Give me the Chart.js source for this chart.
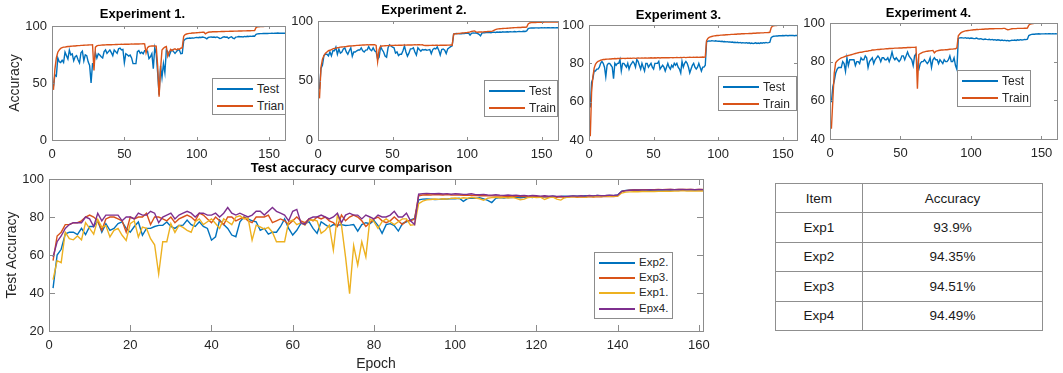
<!DOCTYPE html>
<html>
<head>
<meta charset="utf-8">
<script src="https://cdn.jsdelivr.net/npm/chart.js@4.4.1/dist/chart.umd.min.js"></script>
<style>
  body { margin: 0; background: #fff; width: 1063px; height: 373px; position: relative; overflow: hidden;
         font-family: "Liberation Sans", Arial, sans-serif; }
  canvas { position: absolute; }
  .legend { position: absolute; box-sizing: border-box; border: 1px solid #8c8c8c; background: #fff; color: #262626; }
  .legend .swatch { position: absolute; height: 2px; }
  .legend .lbl { position: absolute; line-height: 1; transform: translateY(-50%); white-space: nowrap; }
  #acc { position: absolute; left: 775px; top: 183px; width: 268px; border-collapse: collapse;
         font-size: 13.5px; color: #1a1a1a; }
  #acc td { border: 1px solid #8f8f8f; height: 28.4px; padding: 0; text-align: center; }
  #acc td:first-child { width: 86px; }
</style>
</head>
<body>
<canvas id="c1" width="300" height="165" style="left:0px;top:0px"></canvas>
<canvas id="c2" width="280" height="165" style="left:290px;top:0px"></canvas>
<canvas id="c3" width="250" height="165" style="left:560px;top:0px"></canvas>
<canvas id="c4" width="263" height="165" style="left:800px;top:0px"></canvas>
<canvas id="cmp" width="720" height="213" style="left:0px;top:160px"></canvas>
<table id="acc"></table>
<script>
// epochs 1..161
const epochs = Array.from({ length: 161 }, (_, i) => i + 1);

const exp1Test = [
  47, 57, 56, 72, 68.6, 68, 70, 68, 77, 74,
  71, 78.8, 74.7, 75.5, 69.5, 73, 74, 70.4, 67.7, 76.5,
  78, 69.5, 74.7, 74, 68.6, 65.4, 50, 67, 67, 76.5,
  71.9, 75.6, 74.5, 73, 72, 77.5, 79, 76, 77.5, 79,
  76.6, 74, 79, 77.5, 76, 80, 80.6, 79, 79.5, 67.8,
  75.7, 74.8, 73.6, 74.5, 72, 67, 67, 67, 77.5, 78.4,
  76, 77, 75.7, 78.4, 78.4, 78, 71.4, 73, 75.7, 62.6,
  81, 75.7, 59, 39.7, 65, 54.7, 67, 59, 79, 77.5,
  74, 77.5, 79, 77.5, 76, 77.5, 79, 79, 75.7, 76,
  87, 88.4, 89, 89.2, 89.5, 89.3, 89.6, 89.4, 89.8, 90,
  89.7, 90.1, 89.9, 90.3, 90, 89.6, 88.8, 89.9, 90.2, 90.4,
  90.1, 90.3, 90, 90.4, 89.8, 89.1, 89.4, 90.3, 90.5, 90.2,
  90.4, 89.2, 90.1, 90.6, 89.4, 88.9, 90.3, 90.5, 90.8, 90.6,
  90.7, 90.4, 90.9, 90.6, 91, 90.8, 91.1, 90.9, 91.2, 91,
  92.6, 93.1, 93.2, 93.3, 93.3, 93.4, 93.4, 93.5, 93.4, 93.5,
  93.5, 93.6, 93.5, 93.6, 93.6, 93.9, 93.6, 93.7, 93.6, 93.7,
  93.7
];
const exp1Train = [
  44, 62, 72, 77, 79, 80.5, 81, 81.5, 81.5, 81.8,
  82, 82, 82.2, 82.3, 82.5, 82.5, 82.7, 82.8, 82.8, 83,
  83, 83.1, 83.2, 83.2, 83.3, 83.4, 83.4, 83.5, 61, 81.5,
  82.5, 83, 83, 83.2, 83.3, 83.3, 83.4, 83.5, 83.5, 83.6,
  83.6, 83.7, 83.7, 83.8, 83.8, 83.9, 83.9, 84, 83.9, 84,
  84, 84.1, 84, 84.1, 84.2, 84.1, 84.2, 84.2, 84.3, 84.2,
  84.3, 84.3, 84.4, 84.3, 76.5, 81, 82, 82.3, 82.5, 82.5,
  82.6, 82.4, 65, 38, 62, 79, 80.5, 81.5, 82, 73.5,
  77, 79.5, 78.5, 79.5, 80, 79, 80, 79.5, 80.5, 81,
  91, 92.5, 93, 93.3, 93.5, 93.6, 93.8, 93.9, 94, 94.1,
  94.2, 94.3, 94.4, 94.5, 94.6, 93.2, 94, 94.5, 94.7, 94.8,
  94.9, 94.9, 95, 95, 95.1, 95.1, 95.2, 95.2, 95.2, 95.3,
  95.3, 95.3, 95.4, 95.4, 95.4, 95.5, 95.5, 95.5, 95.6, 95.6,
  95.6, 95.7, 95.7, 95.7, 95.8, 95.8, 95.8, 95.9, 95.9, 96,
  98.6, 99.2, 99.4, 99.5, 99.6, 99.6, 99.7, 99.7, 99.7, 99.8,
  99.8, 99.8, 99.8, 99.8, 99.9, 99.9, 99.9, 99.9, 99.9, 99.9,
  99.9
];
const exp2Test = [
  42.6, 60, 63, 71, 72, 72, 70.7, 74, 70.7, 75,
  75, 78, 72, 76.5, 73, 74, 76.5, 77.4, 74, 72,
  75, 77.4, 70.4, 74, 74, 75, 75.6, 75.6, 77.4, 75,
  74, 75.5, 75.7, 78.4, 76, 75, 77.5, 75, 74, 67.8,
  69.6, 78.4, 76, 74, 70.5, 69.6, 77.5, 80, 79, 78,
  77.5, 73, 74, 71, 72, 72, 75, 79, 74, 70.5,
  73, 76.6, 76.6, 77.5, 74, 71.4, 77.5, 76, 74.6, 76,
  75.7, 76, 75.5, 75.7, 76, 72.6, 76, 77, 76.5, 78.2,
  75.5, 71.4, 76, 76.5, 75.5, 72.6, 76.5, 77.5, 78.5, 79.2,
  89, 89.4, 89.5, 89.4, 89.2, 89.3, 89.5, 89.4, 89.7, 89.6,
  89.9, 88.2, 89.7, 90, 89.8, 90.1, 89.5, 88.8, 87.6, 89.8,
  90.2, 90, 90.4, 90.3, 90.5, 90.1, 90.4, 90.6, 90.3, 90.7,
  90.6, 90.8, 90.5, 90.9, 90.7, 90.8, 91, 90.8, 91.1, 90.9,
  91, 91.2, 90.9, 91.1, 91.3, 91.1, 91.2, 91.4, 91.2, 91.6,
  93.6, 94, 94.1, 94.2, 94.1, 94.2, 94.2, 94.1, 94.2, 94.3,
  94.2, 94.3, 94.2, 94.35, 94.3, 94.2, 94.3, 94.3, 94.2, 94.3,
  94.3
];
const exp2Train = [
  35, 61, 68, 71, 73, 74, 75, 75.4, 76, 76.5,
  77, 77.2, 77.5, 77.7, 78, 78.2, 78.3, 78.5, 78.6, 78.8,
  79, 79, 79.1, 79.2, 79.3, 79.5, 79.5, 79.6, 79.7, 79.8,
  79.8, 79.9, 80, 79.9, 80, 80.1, 80, 80.1, 79.5, 66,
  76, 78.8, 79, 79.1, 79.2, 79.3, 79.3, 79.4, 79.5, 79.4,
  79.5, 79.6, 79.5, 79.6, 79.7, 79.6, 79.7, 79.8, 79.7, 79.8,
  79.8, 79.9, 79.8, 79.9, 80, 79.9, 80, 80, 79.9, 80,
  79.5, 79.4, 79.5, 79.4, 79.5, 79.5, 79.6, 79.5, 79.6, 79.6,
  79.5, 79.6, 79.7, 79.6, 79.7, 79.6, 79.7, 79.7, 79.8, 79.6,
  89, 89.3, 89.2, 89.5, 89.6, 89.8, 89.9, 90, 90.2, 90.3,
  90.5, 90.8, 91.2, 91.5, 91.6, 90.8, 90.6, 90.7, 90.8, 90.7,
  90.9, 91, 91.1, 91.2, 91.3, 91.3, 91.5, 92.2, 92.8, 93.2,
  93.4, 93.5, 93.6, 93.7, 93.8, 93.8, 93.9, 94, 94.1, 94.2,
  94.3, 94.4, 94.4, 94.5, 94.6, 94.6, 94.7, 94.8, 94.8, 94.9,
  97.5, 98.3, 98.6, 98.7, 98.8, 98.8, 98.9, 98.9, 99, 99,
  99, 99.1, 99.1, 99.1, 99.2, 99.2, 99.2, 99.2, 99.2, 99.2,
  99.2
];
const exp3Test = [
  57, 70, 72, 76, 76, 77, 77, 78, 80, 81,
  80, 78, 73, 79, 80, 80, 79, 78, 72, 80,
  79, 80, 80, 82, 76, 80, 80, 79, 78, 80,
  77, 79, 80, 81, 80, 78, 82, 81, 79, 77,
  80, 78, 76, 80, 80, 78, 79, 80, 78, 77,
  80, 80, 80, 81, 77, 78, 79, 78, 76, 78,
  80, 78, 77, 79, 78, 80, 79, 80, 78, 77,
  75, 81, 78, 80, 81, 80, 78, 75, 77, 79,
  80, 78, 77, 78, 80, 78, 76, 78, 78, 79,
  91.2, 91.6, 91.7, 91.6, 91.8, 91.7, 91.6, 91.8, 91.6, 91.5,
  91.6, 91.4, 91.5, 91.3, 91.4, 91.2, 91.3, 91.1, 91.2, 91,
  91.1, 90.9, 91, 90.8, 91, 90.7, 90.9, 90.6, 90.8, 90.7,
  90.6, 90.8, 90.5, 90.7, 90.4, 90.6, 90.3, 90.5, 90.7, 90.4,
  90.6, 90.4, 90.7, 90.5, 90.8, 90.6, 90.9, 90.7, 90.8, 91,
  93.4, 93.9, 94.1, 94.2, 94.3, 94.3, 94.4, 94.4, 94.4, 94.5,
  94.4, 94.5, 94.5, 94.4, 94.5, 94.51, 94.5, 94.5, 94.4, 94.5,
  94.5
];
const exp3Train = [
  42, 65, 73, 77.5, 79.5, 80.5, 81, 81.3, 81.6, 81.8,
  82, 82, 82.1, 82.2, 82.2, 82.3, 82.3, 82.4, 82.4, 82.5,
  82.4, 82.5, 82.5, 82.6, 82.5, 82.6, 82.6, 82.5, 82.6, 82.7,
  82.6, 82.7, 82.6, 82.7, 82.7, 82.6, 82.7, 82.8, 82.7, 82.7,
  82.8, 82.7, 82.8, 82.8, 82.7, 82.8, 82.8, 82.9, 82.8, 82.8,
  82.9, 82.8, 82.9, 82.9, 82.8, 82.9, 82.9, 83, 82.9, 82.9,
  83, 82.9, 83, 83, 82.9, 83, 83, 83.1, 83, 83,
  83.1, 83, 83.1, 83.1, 83, 83.1, 83.1, 83.2, 83.1, 83.1,
  83.2, 83.1, 83.2, 83.2, 83.1, 83.2, 83.2, 83.3, 83.2, 83.3,
  91.8, 93, 93.5, 93.8, 94, 94.2, 94.3, 94.4, 94.5, 94.5,
  94.6, 94.7, 94.7, 94.8, 94.8, 94.9, 94.9, 95, 95, 95.1,
  95.1, 95.1, 95.2, 95.2, 95.3, 95.3, 95.3, 95.4, 95.4, 95.4,
  95.5, 95.5, 95.5, 95.6, 95.6, 95.6, 95.7, 95.7, 95.7, 95.8,
  95.8, 95.8, 95.9, 95.9, 95.9, 96, 96, 96, 96.1, 96.2,
  98.5, 99.4, 99.6, 99.7, 99.7, 99.8, 99.8, 99.8, 99.8, 99.9,
  99.9, 99.9, 99.9, 99.9, 99.9, 99.9, 99.9, 99.9, 99.9, 99.9,
  99.9
];
const exp4Test = [
  59, 67, 70, 74, 76, 77, 77, 77, 80, 79,
  75, 82, 78, 81, 81, 81, 81, 78, 80, 80,
  79, 82, 81, 81, 83, 82, 77, 80, 81, 82,
  79, 81, 82, 83, 82, 80, 82, 82, 81, 81,
  82, 80, 82, 85, 82, 81, 82, 81, 80, 81,
  83, 83, 81, 83, 85, 83, 82, 81, 78, 83,
  84, 77, 76, 79, 80, 80, 81, 80, 79, 80,
  82, 77, 81, 82, 81, 81, 79, 81, 80, 79,
  81, 80, 80, 81, 83, 80, 80, 82, 78, 76,
  92, 92.3, 92.4, 92.3, 92.2, 92.4, 92.1, 92.3, 92, 92.2,
  92.1, 91.9, 92, 92.2, 91.8, 91.7, 91.9, 91.6, 91.5, 91.7,
  91.5, 91.4, 91.6, 91.3, 91.5, 91.2, 91.4, 91.1, 91.3, 91.2,
  91, 91.2, 90.9, 91.1, 90.8, 91, 90.7, 90.9, 91.1, 91,
  91.2, 91, 91.3, 91.1, 91.4, 91.2, 91.3, 91.5, 91.4, 91.6,
  93.5, 93.9, 94.1, 94.2, 94.2, 94.3, 94.3, 94.4, 94.3, 94.4,
  94.4, 94.4, 94.45, 94.4, 94.45, 94.49, 94.4, 94.45, 94.4, 94.45,
  94.4
];
const exp4Train = [
  45.3, 60, 74, 79.4, 80.3, 81, 81.5, 82, 82.2, 82.5,
  82.8, 83, 83.2, 83.4, 83.6, 83.8, 84, 84.2, 84.4, 84.6,
  84.8, 84.9, 85, 85.2, 85.3, 85.4, 85.5, 85.7, 85.8, 86,
  86, 86.1, 86.2, 86.3, 86.3, 86.4, 86.5, 86.5, 86.6, 86.7,
  86.7, 86.8, 86.8, 86.9, 86.9, 87, 87, 87, 87.1, 87.1,
  87.1, 87.2, 87.2, 87.2, 87.3, 87.3, 87.3, 87.4, 87.4, 87.4,
  87.5, 66, 83.7, 84.2, 84.6, 84.9, 85.1, 85.3, 85.4, 85.5,
  85.6, 85.7, 85.8, 84.6, 85.3, 85.6, 85.8, 85.9, 86, 86,
  86.1, 86.2, 86.2, 86.3, 86.4, 86.5, 86.5, 86.6, 86.7, 87.2,
  93.4, 94.3, 95, 95.4, 95.7, 95.9, 96, 96.1, 96.2, 96.3,
  96.4, 96.5, 96.5, 96.6, 96.6, 96.7, 96.7, 96.8, 96.8, 96.9,
  96.9, 96.9, 97, 97, 97, 97, 97.1, 97.1, 97.1, 97.1,
  97.1, 97.1, 97.2, 97.2, 96.8, 96.5, 96.6, 96.8, 97, 97.1,
  97.1, 97.1, 97.2, 97.2, 97.2, 97.2, 97.2, 97.3, 97.3, 97.4,
  98.9, 99.4, 99.6, 99.7, 99.8, 99.8, 99.8, 99.9, 99.9, 99.9,
  99.9, 99.9, 99.9, 100, 100, 99.9, 100, 100, 100, 100,
  99.9
];

const tableItems = ['Exp1', 'Exp2', 'Exp3', 'Exp4'];
const tableAccuracy = ['93.9%', '94.35%', '94.51%', '94.49%'];

const BLUE = '#0072BD', ORANGE = '#D95319', YELLOW = '#EDB120', PURPLE = '#7E2F8E';
const AXIS = '#8c8c8c', TEXT = '#262626';
const FONT = '"Liberation Sans", Arial, sans-serif';

// box round the plot area with MATLAB-style inward ticks
const boxTicks = {
    id: 'boxTicks',
    afterDatasetsDraw(chart, args, opts) {
        const { ctx, chartArea: a, scales: { x, y } } = chart;
        const len = opts.len || 3;
        ctx.save();
        ctx.strokeStyle = AXIS;
        ctx.lineWidth = 1;
        ctx.beginPath();
        x.ticks.forEach(t => {
            const px = Math.round(x.getPixelForValue(t.value)) + 0.5;
            ctx.moveTo(px, a.bottom); ctx.lineTo(px, a.bottom - len);
            ctx.moveTo(px, a.top); ctx.lineTo(px, a.top + len);
        });
        y.ticks.forEach(t => {
            const py = Math.round(y.getPixelForValue(t.value)) + 0.5;
            ctx.moveTo(a.left, py); ctx.lineTo(a.left + len, py);
            ctx.moveTo(a.right, py); ctx.lineTo(a.right - len, py);
        });
        ctx.stroke();
        ctx.strokeRect(Math.round(a.left) + 0.5, Math.round(a.top) + 0.5,
                       Math.round(a.width), Math.round(a.height));
        ctx.restore();
    }
};

function line(label, data, color, order) {
    return { label, data, borderColor: color, backgroundColor: color, borderWidth: 1.4,
             pointRadius: 0, tension: 0, order };
}

function makeChart(id, cfg) {
    const canvas = document.getElementById(id);
    const cl = parseFloat(canvas.style.left), ct = parseFloat(canvas.style.top);
    const cw = canvas.width, ch = canvas.height;
    const [pl, pt, pr, pb] = cfg.plot;
    const titlePadTop = cfg.titleY - ct - 7.8;
    return new Chart(canvas, {
        type: 'line',
        data: { labels: epochs, datasets: cfg.datasets },
        options: {
            responsive: false,
            devicePixelRatio: 1,
            animation: false,
            layout: { padding: { left: 0, top: 0, bottom: 0, right: cl + cw - pr } },
            plugins: {
                legend: { display: false },
                tooltip: { enabled: false },
                title: {
                    display: true, text: cfg.title, color: '#000',
                    font: { family: FONT, size: 13, weight: 'bold' },
                    padding: { top: titlePadTop, bottom: pt - ct - 15.6 - titlePadTop }
                },
                boxTicks: { len: cfg.tickLen }
            },
            scales: {
                x: {
                    type: 'linear', min: 0, max: 161,
                    grid: { display: false, drawTicks: false },
                    border: { display: false },
                    ticks: { stepSize: cfg.xStep, includeBounds: false, autoSkip: false, maxRotation: 0,
                             padding: 7, color: TEXT, font: { family: FONT, size: 13 } },
                    title: cfg.xTitle ? { display: true, text: cfg.xTitle, color: TEXT,
                                          font: { family: FONT, size: 14 }, padding: { top: 0, bottom: 0 } }
                                      : { display: false },
                    afterFit: s => { s.height = ct + ch - pb; }
                },
                y: {
                    min: cfg.yMin, max: 100,
                    grid: { display: false, drawTicks: false },
                    border: { display: false },
                    ticks: { stepSize: cfg.yStep, padding: 5, color: TEXT, font: { family: FONT, size: 13 } },
                    title: cfg.yTitle ? { display: true, text: cfg.yTitle, color: TEXT,
                                          font: { family: FONT, size: 14 },
                                          padding: { top: cfg.yTitleX - 8.4, bottom: 0 } }
                                      : { display: false },
                    afterFit: s => { s.width = pl - cl; }
                }
            }
        },
        plugins: [boxTicks]
    });
}

function makeLegend(chart, box, rows, fontSize) {
    const div = document.createElement('div');
    div.className = 'legend';
    Object.assign(div.style, { left: box[0] + 'px', top: box[1] + 'px', width: box[2] + 'px',
                               height: box[3] + 'px', fontSize: fontSize + 'px' });
    chart.data.datasets.forEach((d, i) => {
        const sw = document.createElement('div');
        sw.className = 'swatch';
        sw.style.cssText = `left:4px;top:${rows[i] - 1}px;width:36px;background:${d.borderColor}`;
        const lb = document.createElement('span');
        lb.className = 'lbl';
        lb.style.cssText = `left:44px;top:${rows[i]}px`;
        lb.textContent = d.label;
        div.appendChild(sw);
        div.appendChild(lb);
    });
    document.body.appendChild(div);
}

const tops = [
    { id: 'c1', title: 'Experiment 1.', test: exp1Test, train: exp1Train, trainLabel: 'Trian',
      yMin: 0, yStep: 50, yTitle: 'Accuracy', yTitleX: 15, titleY: 14,
      plot: [52, 26, 285, 140], legend: [212, 78, 74, 37] },
    { id: 'c2', title: 'Experiment 2.', test: exp2Test, train: exp2Train, trainLabel: 'Train',
      yMin: 0, yStep: 50, titleY: 10,
      plot: [318, 21, 558, 140], legend: [484, 80, 74, 37] },
    { id: 'c3', title: 'Experiment 3.', test: exp3Test, train: exp3Train, trainLabel: 'Train',
      yMin: 40, yStep: 20, titleY: 15,
      plot: [589, 25, 797, 140], legend: [718, 76, 79, 35] },
    { id: 'c4', title: 'Experiment 4.', test: exp4Test, train: exp4Train, trainLabel: 'Train',
      yMin: 40, yStep: 20, titleY: 13,
      plot: [830, 23, 1057, 139], legend: [957, 70, 74, 37] }
];

tops.forEach(t => {
    const chart = makeChart(t.id, {
        title: t.title, titleY: t.titleY, plot: t.plot, tickLen: 3,
        xStep: 50, yMin: t.yMin, yStep: t.yStep, yTitle: t.yTitle, yTitleX: t.yTitleX,
        datasets: [line('Test', t.test, BLUE, 2), line(t.trainLabel, t.train, ORANGE, 1)]
    });
    makeLegend(chart, t.legend, [10, 27], 12);
});

const cmp = makeChart('cmp', {
    title: 'Test accuracy curve comparison', titleY: 168, plot: [49, 179, 703, 331], tickLen: 6,
    xStep: 20, yMin: 20, yStep: 20, yTitle: 'Test Accuracy', yTitleX: 12, xTitle: 'Epoch',
    datasets: [
        line('Exp2.', exp2Test, BLUE, 4),
        line('Exp3.', exp3Test, ORANGE, 3),
        line('Exp1.', exp1Test, YELLOW, 2),
        line('Epx4.', exp4Test, PURPLE, 1)
    ]
});
makeLegend(cmp, [594, 252, 79, 67], [10, 25, 40, 56], 11.5);

// accuracy table
const table = document.getElementById('acc');
const head = table.insertRow();
['Item', 'Accuracy'].forEach(h => { head.insertCell().textContent = h; });
tableItems.forEach((item, i) => {
    const r = table.insertRow();
    r.insertCell().textContent = item;
    r.insertCell().textContent = tableAccuracy[i];
});
</script>
</body>
</html>
